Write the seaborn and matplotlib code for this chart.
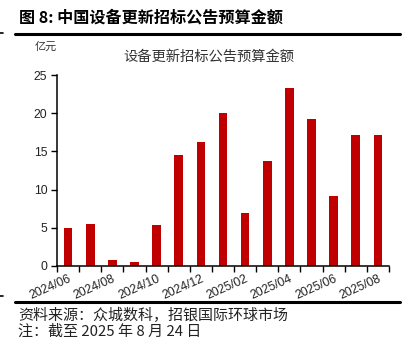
import matplotlib
matplotlib.use("Agg")
import matplotlib.pyplot as plt
import seaborn as sns
import pandas as pd
from matplotlib.lines import Line2D

months = ["2024/06", "2024/07", "2024/08", "2024/09", "2024/10", "2024/11", "2024/12",
          "2025/01", "2025/02", "2025/03", "2025/04", "2025/05", "2025/06", "2025/07", "2025/08"]
values = [4.9, 5.5, 0.8, 0.5, 5.3, 14.6, 16.3, 20.1, 6.9, 13.8, 23.3, 19.3, 9.1, 17.2, 17.1]
yticks = [0, 5, 10, 15, 20, 25]

sns.set_theme(style="white")
plt.rcParams['font.family'] = ['Liberation Sans', 'Noto Sans CJK SC', 'DejaVu Sans']

W, H = 412, 337
fig = plt.figure(figsize=(W / 100, H / 100), dpi=100)

def fx(px):
    return px / W

def fy(py):
    return 1 - py / H

ax = fig.add_axes([fx(57), fy(265.7), fx(389) - fx(57), fy(75.3) - fy(265.7)])
df = pd.DataFrame({"month": months, "value": values})
sns.barplot(data=df, x="month", y="value", color="#C00000", width=0.39,
            saturation=1, ax=ax, edgecolor="none")

ax.set_xlim(-0.5, len(months) - 0.5)
ax.set_ylim(0, 25)
ax.set_yticks(yticks)
ax.set_yticklabels([str(v) for v in yticks], fontsize=8.8, color="#222222")
ax.set_xlabel("")
ax.set_ylabel("")

label_idx = list(range(0, len(months), 2))
ax.set_xticks(label_idx)
ax.set_xticklabels([months[i] for i in label_idx], rotation=24, ha="right",
                   va="top", rotation_mode="anchor", fontsize=8.8, color="#222222")
ax.set_xticks([i - 0.5 for i in range(len(months) + 1)], minor=True)
ax.tick_params(axis="x", which="major", length=0, pad=5)
ax.tick_params(axis="x", which="minor", length=4, width=1, color="black", direction="out", bottom=True)
ax.tick_params(axis="y", which="major", length=4, width=1, color="black", direction="out", left=True, pad=3)

for side in ["top", "right"]:
    ax.spines[side].set_visible(False)
for side in ["left", "bottom"]:
    ax.spines[side].set_color("black")
    ax.spines[side].set_linewidth(1.1)
ax.grid(False)

cjk = ['Noto Sans CJK SC', 'DejaVu Sans']

fig.text(fx(19), fy(18), "图 8: 中国设备更新招标公告预算金额", fontsize=11.6,
         fontweight="bold", family=cjk, va="center", ha="left", color="black")
fig.add_artist(Line2D([fx(15), fx(400)], [fy(33.5), fy(33.5)], color="black", linewidth=2.2))
fig.add_artist(Line2D([fx(0), fx(3)], [fy(33), fy(33)], color="black", linewidth=1.2))

fig.text(fx(35), fy(47), "亿元", fontsize=8, family=cjk, va="center", ha="left", color="#333333")
fig.text(fx(209), fy(57), "设备更新招标公告预算金额", fontsize=10.3, family=cjk,
         va="center", ha="center", color="#333333")

fig.add_artist(Line2D([fx(15), fx(400)], [fy(301.7), fy(301.7)], color="black", linewidth=2.2))
fig.add_artist(Line2D([fx(0), fx(3)], [fy(296), fy(296)], color="black", linewidth=1.2))

fig.text(fx(18), fy(315), "资料来源：众城数科，招银国际环球市场", fontsize=10.8, family=cjk,
         va="center", ha="left", color="#222222")
fig.text(fx(18), fy(332), "注：截至 2025 年 8 月 24 日", fontsize=10.8, family=cjk,
         va="center", ha="left", color="#222222")

fig.savefig("out.png", dpi=100)
